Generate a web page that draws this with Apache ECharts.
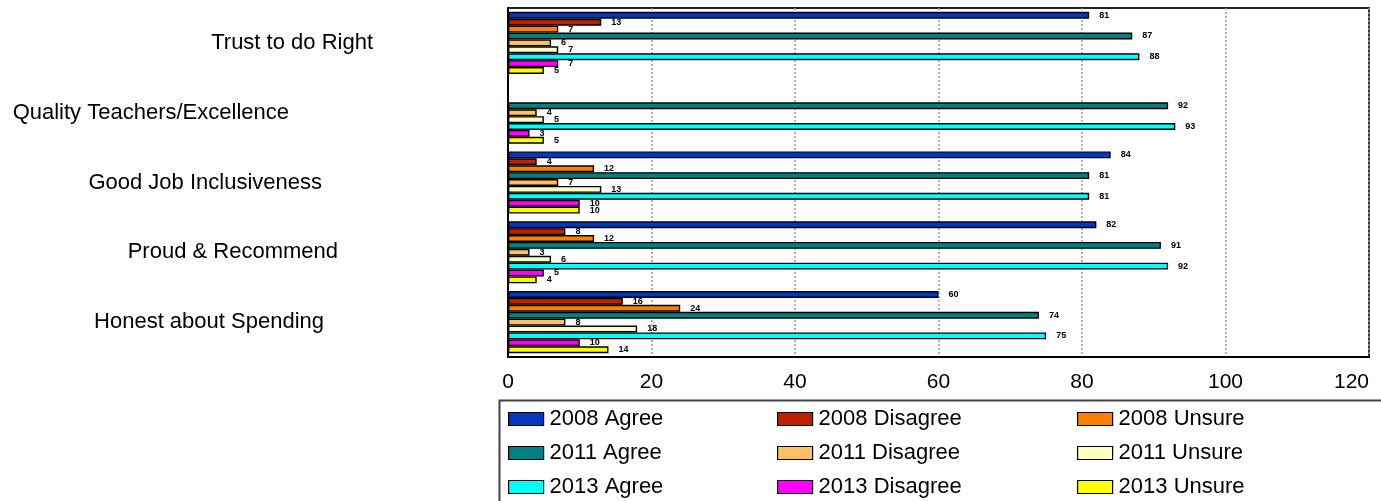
<!DOCTYPE html>
<html>
<head>
<meta charset="utf-8">
<script src="https://cdn.jsdelivr.net/npm/echarts@6/dist/echarts.min.js"></script>
<style>
html,body{margin:0;padding:0;background:#fff;overflow:hidden;}
#chart{width:1381px;height:501px;}
</style>
</head>
<body>
<div id="chart"></div>
<script>
// ---- data ----
var categories = ['Trust to do Right', 'Quality Teachers/Excellence', 'Good Job Inclusiveness', 'Proud & Recommend', 'Honest about Spending'];
var seriesNames = ['2008 Agree', '2008 Disagree', '2008 Unsure', '2011 Agree', '2011 Disagree', '2011 Unsure', '2013 Agree', '2013 Disagree', '2013 Unsure'];
var agree2008 = [81, null, 84, 82, 60];
var disagree2008 = [13, null, 4, 8, 16];
var unsure2008 = [7, null, 12, 12, 24];
var agree2011 = [87, 92, 81, 91, 74];
var disagree2011 = [6, 4, 7, 3, 8];
var unsure2011 = [7, 5, 13, 6, 18];
var agree2013 = [88, 93, 81, 92, 75];
var disagree2013 = [7, 3, 10, 5, 10];
var unsure2013 = [5, 5, 10, 4, 14];
var xTicks = [0, 20, 40, 60, 80, 100, 120];

// ---- styles ----
var seriesValues = [agree2008, disagree2008, unsure2008, agree2011, disagree2011, unsure2011, agree2013, disagree2013, unsure2013];
var colors = ['#0039BF', '#BF2000', '#FF8000', '#008080', '#FFBF66', '#FFFFC0', '#00FFFF', '#FF00FF', '#FFFF00'];
var labelRightPad = {
  'Trust to do Right': 127,
  'Quality Teachers/Excellence': 211,
  'Good Job Inclusiveness': 178,
  'Proud & Recommend': 162,
  'Honest about Spending': 176
};
var FONT = 'Liberation Sans, Arial, sans-serif';

var chart = echarts.init(document.getElementById('chart'), null, {renderer: 'canvas'});

var series = seriesNames.map(function (name, i) {
  return {
    name: name,
    type: 'bar',
    data: seriesValues[i],
    barWidth: 6.9,
    barGap: '0%',
    itemStyle: {color: colors[i], borderColor: '#000', borderWidth: 1.4},
    label: {
      show: true,
      position: 'right',
      distance: 10,
      fontSize: 9,
      fontWeight: 'bold',
      fontFamily: FONT,
      color: '#000'
    },
    emphasis: {disabled: true},
    animation: false
  };
});

function legendFor(names, left) {
  return {
    orient: 'vertical',
    left: left,
    top: 408,
    height: 120,
    padding: 0,
    data: names,
    itemWidth: 35,
    itemHeight: 13,
    itemGap: 12,
    icon: 'rect',
    selectedMode: false,
    itemStyle: {borderColor: '#000', borderWidth: 1.2},
    textStyle: {fontSize: 22, lineHeight: 22, fontFamily: FONT, color: '#000', padding: [0, 0, 0, 1]}
  };
}

var option = {
  backgroundColor: '#fff',
  animation: false,
  grid: {
    left: 508,
    right: 12,
    top: 8,
    bottom: 144,
    show: true,
    borderColor: '#222',
    borderWidth: 1.8,
    containLabel: false,
    outerBoundsMode: 'none'
  },
  xAxis: {
    type: 'value',
    min: 0,
    max: 120,
    interval: 20,
    axisLine: {show: true, lineStyle: {color: '#000', width: 2}},
    axisTick: {show: false},
    splitLine: {show: true, lineStyle: {color: '#999', type: [2, 2], width: 1.5}},
    axisLabel: {
      fontSize: 21, fontFamily: FONT, color: '#000', margin: 15,
      alignMaxLabel: 'right',
      formatter: function (v) { return xTicks.indexOf(v) >= 0 ? String(v) : ''; }
    }
  },
  yAxis: {
    type: 'category',
    inverse: true,
    data: categories.map(function (c) {
      return {value: c, textStyle: {padding: [7, labelRightPad[c], 0, 0]}};
    }),
    axisLine: {show: true, lineStyle: {color: '#000', width: 2}},
    axisTick: {show: false},
    axisLabel: {fontSize: 22, fontFamily: FONT, color: '#000', margin: 8}
  },
  legend: [
    legendFor([seriesNames[0], seriesNames[3], seriesNames[6]], 508),
    legendFor([seriesNames[1], seriesNames[4], seriesNames[7]], 777),
    legendFor([seriesNames[2], seriesNames[5], seriesNames[8]], 1077)
  ],
  graphic: [{
    type: 'rect',
    left: 497,
    top: 398,
    shape: {width: 950, height: 150},
    style: {fill: 'none', stroke: '#444', lineWidth: 2},
    silent: true
  }],
  series: series
};

chart.setOption(option);
</script>
</body>
</html>
